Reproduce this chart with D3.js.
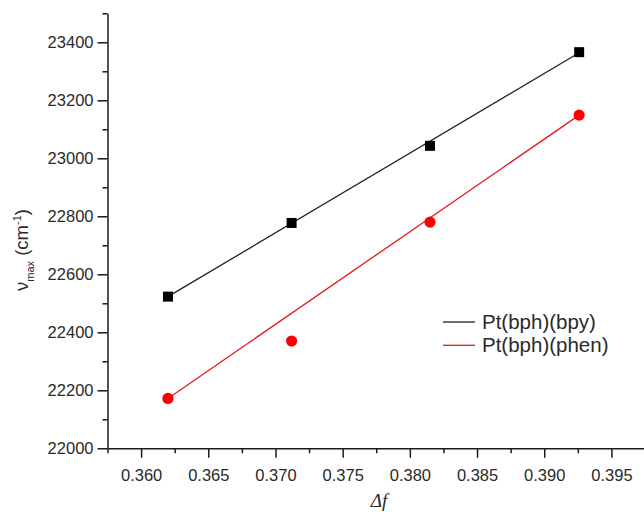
<!DOCTYPE html>
<html>
<head>
<meta charset="utf-8">
<script src="https://cdn.jsdelivr.net/npm/d3@7"></script>
<style>
    body { margin: 0; background: #fff; }
    svg { display: block; overflow: hidden; }
    .axis text { font-family: "Liberation Sans", Arial, sans-serif; font-size: 16.5px; fill: #2a2a2a; }
    .axis path, .axis line { stroke: #1a1a1a; stroke-width: 1.5px; }
    .legend-label { font-family: "Liberation Sans", Arial, sans-serif; font-size: 20.5px; fill: #2a2a2a; }
</style>
</head>
<body>
<div id="chart"></div>
<script>
// measured data: solvent polarity function vs absorption maximum
const deltaF = [0.362, 0.3712, 0.3815, 0.3926];
const bpyValues = [22523, 22777, 23043, 23366];
const phenValues = [22172, 22370, 22780, 23149];

// linear fit end points (as drawn in the figure)
const fitX = [0.362, 0.3926];
const bpyFit = [22523, 23364];
const phenFit = [22172, 23149];

const seriesNames = ['Pt(bph)(bpy)', 'Pt(bph)(phen)'];

const xTicks = [0.360, 0.365, 0.370, 0.375, 0.380, 0.385, 0.390, 0.395];
const xMinorTicks = [0.3575, 0.3625, 0.3675, 0.3725, 0.3775, 0.3825, 0.3875, 0.3925, 0.3975];
const yTicks = [22000, 22200, 22400, 22600, 22800, 23000, 23200, 23400];
const yMinorTicks = [22100, 22300, 22500, 22700, 22900, 23100, 23300, 23500];

class FitChart {

    constructor(_config) {
        this.config = {
            parentElement: _config.parentElement,
            containerWidth: 644,
            containerHeight: 514,
            margin: {top: 13.3, right: -1, bottom: 65.7, left: 107.5},
            xDomain: [0.3575, 0.3975],
            yDomain: [22000, 23500],
            markerSize: 10,
            circleRadius: 5.6
        };
        this.initVis();
    }

    initVis() {
        let vis = this;
        const c = vis.config;

        vis.width = c.containerWidth - c.margin.left - c.margin.right;
        vis.height = c.containerHeight - c.margin.top - c.margin.bottom;

        vis.xScale = d3.scaleLinear().domain(c.xDomain).range([0, vis.width]);
        vis.yScale = d3.scaleLinear().domain(c.yDomain).range([vis.height, 0]);

        vis.svg = d3.select(c.parentElement).append('svg')
            .attr('width', c.containerWidth)
            .attr('height', c.containerHeight);

        vis.chart = vis.svg.append('g')
            .attr('transform', `translate(${c.margin.left},${c.margin.top})`);

        vis.renderAxes();
        vis.renderVis();
        vis.renderLegend();
    }

    renderAxes() {
        let vis = this;

        // minor ticks first, no labels
        vis.chart.append('g')
            .attr('class', 'axis')
            .attr('transform', `translate(0,${vis.height})`)
            .call(d3.axisBottom(vis.xScale).tickValues(xMinorTicks).tickSize(5).tickFormat(''))
            .call(g => g.select('.domain').remove());

        vis.chart.append('g')
            .attr('class', 'axis')
            .call(d3.axisLeft(vis.yScale).tickValues(yMinorTicks).tickSize(5).tickFormat(''))
            .call(g => g.select('.domain').remove());

        // major ticks with labels
        vis.chart.append('g')
            .attr('class', 'axis x-axis')
            .attr('transform', `translate(0,${vis.height})`)
            .call(d3.axisBottom(vis.xScale)
                .tickValues(xTicks)
                .tickSize(9.5)
                .tickSizeOuter(0)
                .tickPadding(11.5)
                .tickFormat(d3.format('.3f')));

        vis.chart.append('g')
            .attr('class', 'axis y-axis')
            .call(d3.axisLeft(vis.yScale)
                .tickValues(yTicks)
                .tickSize(10)
                .tickSizeOuter(0)
                .tickPadding(4)
                .tickFormat(d3.format('d')));

        // axis titles
        vis.svg.append('text')
            .attr('x', 379)
            .attr('y', 507)
            .attr('text-anchor', 'middle')
            .style('font-family', '"Liberation Serif", "Times New Roman", serif')
            .style('font-style', 'italic')
            .style('font-size', '19px')
            .style('fill', '#2a2a2a')
            .text('\u0394f');

        const yTitle = vis.svg.append('text')
            .attr('transform', 'translate(27.5,250) rotate(-90)')
            .attr('text-anchor', 'middle')
            .style('font-family', '"Liberation Sans", Arial, sans-serif')
            .style('font-size', '18.5px')
            .style('fill', '#2a2a2a');
        yTitle.append('tspan').text('\u03bd');
        yTitle.append('tspan').attr('dy', 6).style('font-size', '11px').text('max');
        yTitle.append('tspan').attr('dy', -6).text(' (cm');
        yTitle.append('tspan').attr('dy', -7).style('font-size', '11px').text('-1');
        yTitle.append('tspan').attr('dy', 7).text(')');
    }

    renderVis() {
        let vis = this;
        const c = vis.config;

        const line = d3.line()
            .x(d => vis.xScale(d[0]))
            .y(d => vis.yScale(d[1]));

        // fit lines
        vis.chart.append('path')
            .datum(fitX.map((x, i) => [x, bpyFit[i]]))
            .attr('d', line)
            .attr('fill', 'none')
            .attr('stroke', '#222')
            .attr('stroke-width', 1.3);

        vis.chart.append('path')
            .datum(fitX.map((x, i) => [x, phenFit[i]]))
            .attr('d', line)
            .attr('fill', 'none')
            .attr('stroke', '#e41a1c')
            .attr('stroke-width', 1.3);

        // markers
        vis.chart.selectAll('.mark-bpy')
            .data(deltaF.map((x, i) => [x, bpyValues[i]]))
            .join('rect')
            .attr('class', 'mark-bpy')
            .attr('x', d => vis.xScale(d[0]) - c.markerSize / 2)
            .attr('y', d => vis.yScale(d[1]) - c.markerSize / 2)
            .attr('width', c.markerSize)
            .attr('height', c.markerSize)
            .attr('fill', '#000');

        vis.chart.selectAll('.mark-phen')
            .data(deltaF.map((x, i) => [x, phenValues[i]]))
            .join('circle')
            .attr('class', 'mark-phen')
            .attr('cx', d => vis.xScale(d[0]))
            .attr('cy', d => vis.yScale(d[1]))
            .attr('r', c.circleRadius)
            .attr('fill', '#ff0000');
    }

    renderLegend() {
        let vis = this;
        const colors = ['#222', '#e41a1c'];

        const legend = vis.svg.append('g')
            .attr('transform', 'translate(443,322)');

        const item = legend.selectAll('.legend-cell')
            .data(seriesNames)
            .join('g')
            .attr('class', 'legend-cell')
            .attr('transform', (d, i) => `translate(0,${i * 23.3})`);

        item.append('line')
            .attr('x1', 0)
            .attr('x2', 32)
            .attr('stroke', (d, i) => colors[i])
            .attr('stroke-width', 1.3);

        item.append('text')
            .attr('class', 'legend-label')
            .attr('x', 39)
            .attr('dy', '0.35em')
            .text(d => d);
    }
}

const chart = new FitChart({parentElement: '#chart'});
</script>
</body>
</html>
